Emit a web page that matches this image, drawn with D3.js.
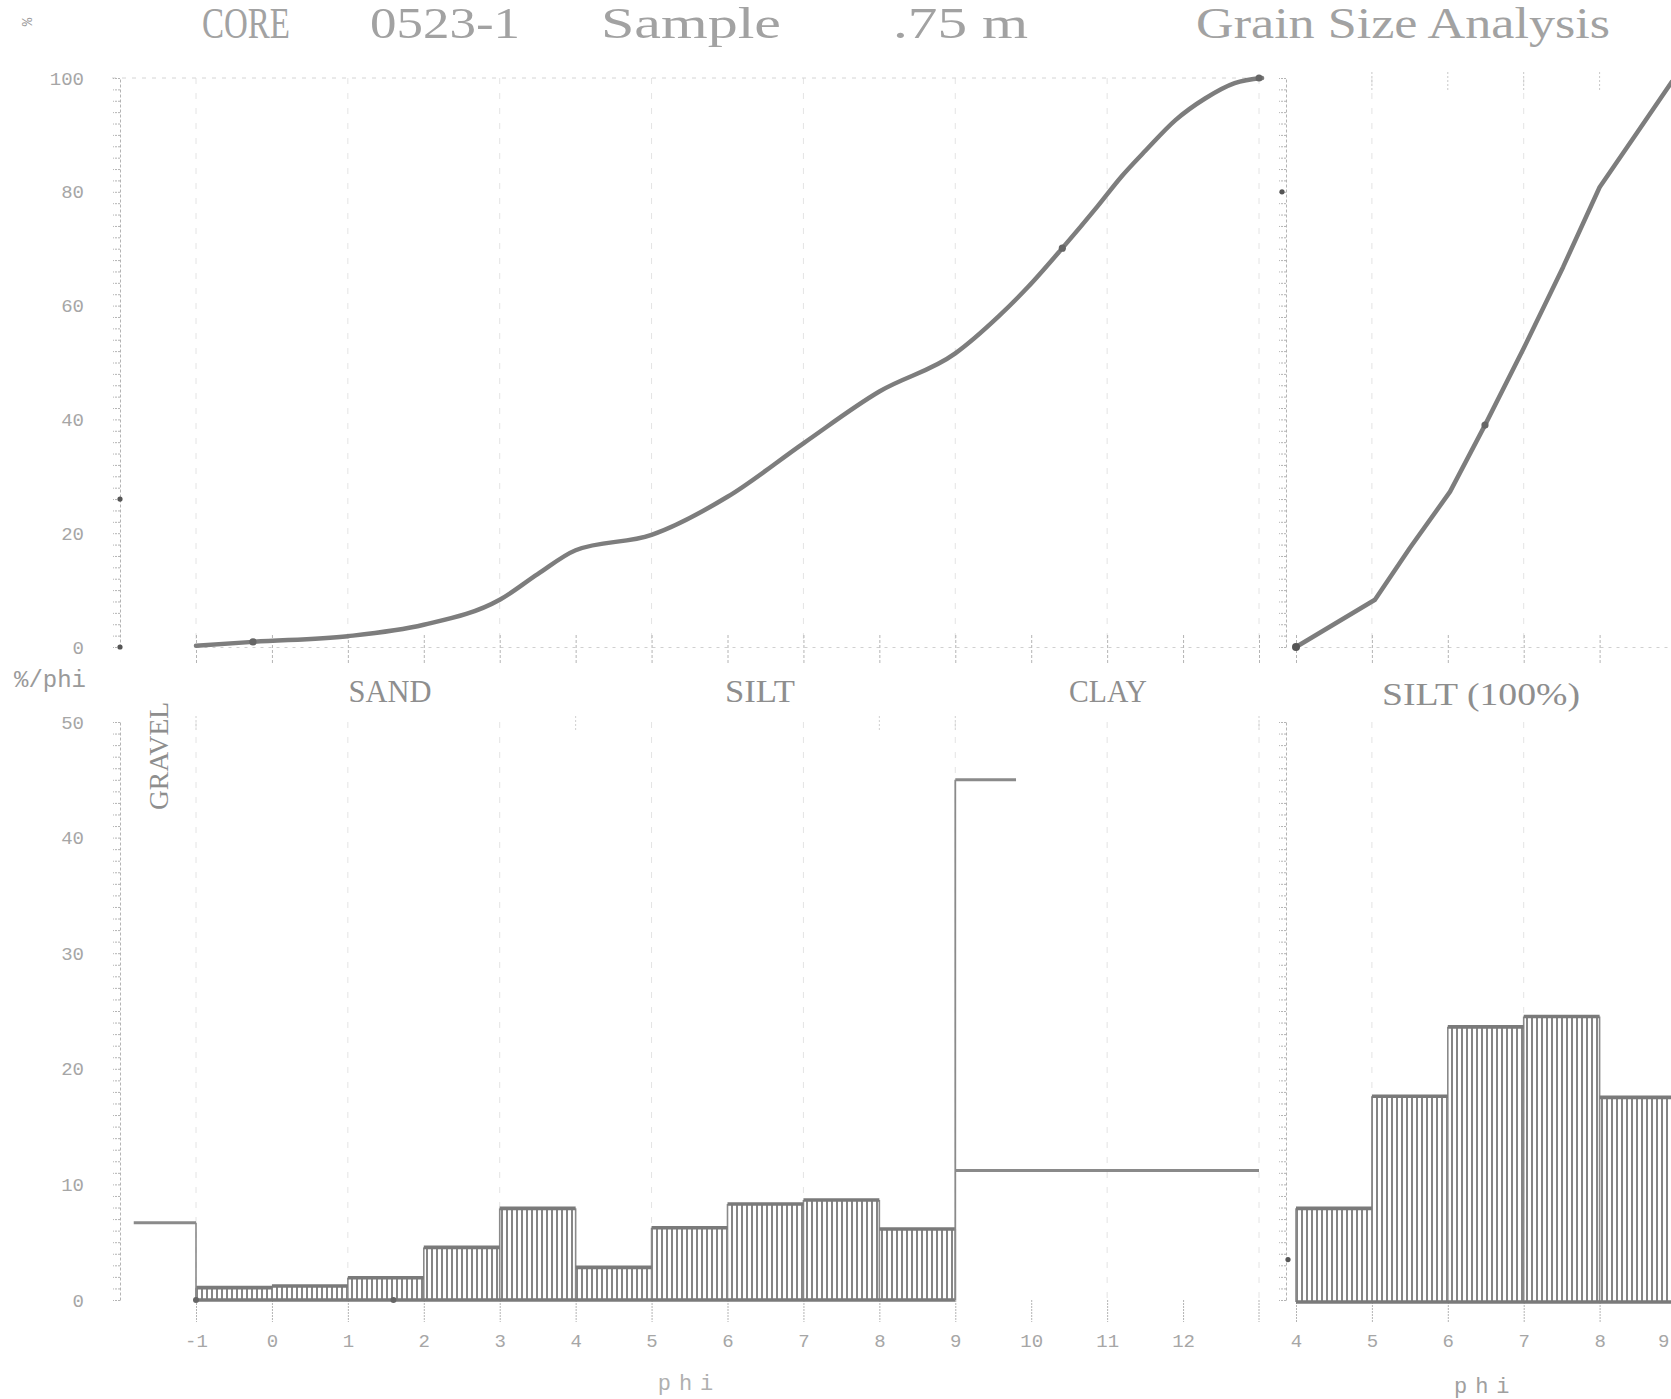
<!DOCTYPE html>
<html><head><meta charset="utf-8">
<script src="https://cdn.jsdelivr.net/npm/d3@7"></script>
<style>
body{margin:0;background:#fff;overflow:hidden}
svg{display:block}
</style>
</head><body>
<svg id="chart" width="1671" height="1399"></svg>
<script>
// ---------------- data ----------------
const titleParts = ["CORE", "0523-1", "Sample", ".75 m", "Grain Size Analysis"];
const sizeClassesLeft = ["SAND", "SILT", "CLAY"];
const sizeClassRight = "SILT (100%)";
const gravelLabel = "GRAVEL";

// cumulative curve, whole sample (phi, cumulative %)
const cumPhiLeft = [-1, -0.25, 1, 2, 3, 3.5, 4, 5, 6, 7, 8, 9, 9.57, 9.96, 10.41, 10.87, 11.19, 11.51, 11.9, 12.29, 12.68, 13.04];
const cumPctLeft = [0.2, 0.9, 1.9, 3.9, 8.3, 12.8, 17, 19.7, 26.4, 35.8, 44.9, 51.6, 58.1, 63.3, 70.1, 77.4, 82.7, 87.3, 92.6, 96.4, 99.1, 100];
const cumDotsLeft = [-0.25, 10.41];

// cumulative curve, silt fraction only
const cumPhiRight = [4, 5.04, 5.5, 6.03, 6.49, 7.0, 7.52, 8.0, 8.5, 8.95, 9.1];
const cumPctRight = [0, 8.3, 17.4, 27.3, 39, 52.5, 66.8, 80.8, 90.5, 99.3, 100];
const cumDotsRight = [6.49];

// histogram (%/phi), whole sample, phi bins -1..9
const binStartLeft = [-1, 0, 1, 2, 3, 4, 5, 6, 7, 8];
const binValueLeft = [1.07, 1.21, 1.93, 4.55, 7.93, 2.82, 6.25, 8.3, 8.65, 6.14];
const gravelBin = {from: -1.82, to: -1, value: 6.69};
const clayBins = [{from: 9, to: 9.8, value: 45}, {from: 9, to: 13, value: 11.2}];

// histogram (%/phi), silt only, phi bins 4..9
const binStartRight = [4, 5, 6, 7, 8];
const binValueRight = [8.1, 17.8, 23.8, 24.7, 17.7];

// tick labels
const cumTicks = [0, 20, 40, 60, 80, 100];
const histTicks = [0, 10, 20, 30, 40, 50];
const phiTicksLeft = [-1, 0, 1, 2, 3, 4, 5, 6, 7, 8, 9, 10, 11, 12];
const phiTicksRight = [4, 5, 6, 7, 8, 9];

// ---------------- drawing ----------------
const svg = d3.select("#chart");
const W = 1671, H = 1399;
svg.append("rect").attr("width", W).attr("height", H).attr("fill", "#fff");

const xL = d3.scaleLinear().domain([-1, 13]).range([196, 1259]);
const xR = d3.scaleLinear().domain([4, 13]).range([1296, 1296 + 9 * 75.9]);
const yTop = d3.scaleLinear().domain([0, 100]).range([647, 78]);
const yBot = d3.scaleLinear().domain([0, 50]).range([1300, 722]);

const tickCol = "#b4b4b4", labCol = "#a6a6a6";

// hatch pattern
const defs = svg.append("defs");
const pat = defs.append("pattern").attr("id", "hatch").attr("patternUnits", "userSpaceOnUse")
  .attr("width", 5).attr("height", 10);
pat.append("line").attr("x1", 2).attr("x2", 2).attr("y1", 0).attr("y2", 10)
  .attr("stroke", "#858585").attr("stroke-width", 2);

// faint vertical grid lines (every 2 phi)
const gridG = svg.append("g");
[-1, 1, 3, 5, 7, 9, 11, 13].forEach(p => {
  [[78, 647], [722, 1300]].forEach(([a, b]) => {
    gridG.append("line").attr("x1", xL(p)).attr("x2", xL(p)).attr("y1", a).attr("y2", b)
      .attr("stroke", "#e4e4e4").attr("stroke-width", 1).attr("stroke-dasharray", "6,9");
  });
});
[5, 7, 9].forEach(p => {
  [[78, 647], [722, 1300]].forEach(([a, b]) => {
    gridG.append("line").attr("x1", xR(p)).attr("x2", xR(p)).attr("y1", a).attr("y2", b)
      .attr("stroke", "#e4e4e4").attr("stroke-width", 1).attr("stroke-dasharray", "6,9");
  });
});
gridG.append("line").attr("x1", 112).attr("x2", 1259).attr("y1", 78).attr("y2", 78)
  .attr("stroke", "#d4d4d4").attr("stroke-dasharray", "4,6");
[5, 6, 7, 8].forEach(p => gridG.append("line").attr("x1", xR(p)).attr("x2", xR(p))
  .attr("y1", 72).attr("y2", 92).attr("stroke", "#c8c8c8").attr("stroke-dasharray", "2,2"));

function styleAxis(g, dash) {
  g.select(".domain").attr("stroke", tickCol).attr("stroke-dasharray", dash || "3,2");
  g.selectAll(".tick line").attr("stroke", tickCol).attr("stroke-dasharray", "2,1");
  g.selectAll("text").attr("fill", labCol).attr("font-family", "Liberation Mono, DejaVu Sans Mono, monospace")
    .attr("font-size", 19);
}

function yAxes(x, scale, minorStep, max, labels, withLabels) {
  const gm = svg.append("g").attr("transform", `translate(${x},0)`)
    .call(d3.axisLeft(scale).tickValues(d3.range(0, max + 0.001, minorStep)).tickSize(7).tickFormat("").tickSizeOuter(0));
  styleAxis(gm);
  if (withLabels) {
    const gl = svg.append("g").attr("transform", `translate(${x},0)`)
      .call(d3.axisLeft(scale).tickValues(labels).tickSize(0).tickPadding(36).tickSizeOuter(0));
    gl.select(".domain").remove();
    styleAxis(gl);
  }
}
yAxes(120, yTop, 2, 100, cumTicks, true);
yAxes(120, yBot, 1, 50, histTicks, true);
yAxes(1286, yTop, 2, 100, cumTicks, false);
yAxes(1286, yBot, 1, 50, histTicks, false);

[[120, yTop(0)], [120, yTop(26)], [1282, yTop(80)], [1288, yBot(3.5)]].forEach(([cx, cy]) =>
  svg.append("circle").attr("cx", cx).attr("cy", cy).attr("r", 2.6).attr("fill", "#555"));

// top x axis ticks (y = 0 line)
const topAx = svg.append("g").attr("transform", `translate(0,${yTop(0)})`)
  .call(d3.axisBottom(xL).tickValues(d3.range(-1, 14)).tickSize(18).tickFormat("").tickSizeOuter(0));
topAx.select(".domain").attr("stroke", "#d0d0d0").attr("stroke-dasharray", "3,5");
topAx.selectAll(".tick line").attr("stroke", tickCol).attr("stroke-dasharray", "3,2").attr("y1", -12);
const topAxR = svg.append("g").attr("transform", `translate(0,${yTop(0)})`)
  .call(d3.axisBottom(xR).tickValues(d3.range(4, 10)).tickSize(18).tickFormat("").tickSizeOuter(0));
topAxR.select(".domain").attr("stroke", "#d0d0d0").attr("stroke-dasharray", "3,5");
topAxR.selectAll(".tick line").attr("stroke", tickCol).attr("stroke-dasharray", "3,2").attr("y1", -12);

[-1, 4, 8, 9, 13].forEach(p => svg.append("line").attr("x1", xL(p)).attr("x2", xL(p))
  .attr("y1", yBot(50) - 6).attr("y2", yBot(50) + 10).attr("stroke", "#d0d0d0").attr("stroke-dasharray", "2,2"));

// bottom x axes
const botAx = svg.append("g").attr("transform", `translate(0,${yBot(0)})`)
  .call(d3.axisBottom(xL).tickValues(phiTicksLeft).tickSize(22).tickPadding(12).tickSizeOuter(0)
    .tickFormat(d => d));
botAx.select(".domain").remove();
styleAxis(botAx);
botAx.append("line").attr("x1", xL(13)).attr("x2", xL(13)).attr("y1", 0).attr("y2", 22)
  .attr("stroke", tickCol).attr("stroke-dasharray", "2,1");
const botAxR = svg.append("g").attr("transform", `translate(0,${yBot(0) + 2})`)
  .call(d3.axisBottom(xR).tickValues(phiTicksRight).tickSize(20).tickPadding(12).tickSizeOuter(0));
botAxR.select(".domain").remove();
styleAxis(botAxR);
// keep the last (edge) label inside the frame
botAxR.selectAll(".tick text").filter(d => xR(d) + 8 > W).attr("text-anchor", "end").attr("x", W - 2 - xR(9));

// ---------- histograms ----------
const hist = svg.append("g");
function bars(starts, values, xs, yb) {
  const data = starts.map((s, i) => ({from: s, to: s + 1, value: values[i]}));
  hist.selectAll(null).data(data).enter().append("rect")
    .attr("x", d => xs(d.from)).attr("width", d => xs(d.to) - xs(d.from))
    .attr("y", d => yb(d.value)).attr("height", d => yb(0) - yb(d.value))
    .attr("fill", "url(#hatch)");
  data.forEach((d, i) => {
    const prev = i > 0 ? data[i - 1].value : 0;
    hist.append("line").attr("x1", xs(d.from)).attr("x2", xs(d.from))
      .attr("y1", yb(0)).attr("y2", yb(Math.max(prev, d.value)))
      .attr("stroke", "#8a8a8a").attr("stroke-width", 1.6);
  });
  const last = data[data.length - 1];
  hist.append("line").attr("x1", xs(last.to)).attr("x2", xs(last.to))
    .attr("y1", yb(0)).attr("y2", yb(last.value)).attr("stroke", "#8a8a8a").attr("stroke-width", 1.6);
  hist.selectAll(null).data(data).enter().append("line")
    .attr("x1", d => xs(d.from)).attr("x2", d => xs(d.to))
    .attr("y1", d => yb(d.value)).attr("y2", d => yb(d.value))
    .attr("stroke", "#7a7a7a").attr("stroke-width", 3.6);
  hist.append("line").attr("x1", xs(data[0].from)).attr("x2", xs(last.to))
    .attr("y1", yb(0)).attr("y2", yb(0)).attr("stroke", "#7a7a7a").attr("stroke-width", 3.6);
}
bars(binStartLeft, binValueLeft, xL, yBot);
bars(binStartRight, binValueRight, xR, d3.scaleLinear().domain([0, 50]).range([1302, 724]));

// gravel
hist.append("line").attr("x1", xL(gravelBin.from)).attr("x2", xL(gravelBin.to))
  .attr("y1", yBot(gravelBin.value)).attr("y2", yBot(gravelBin.value)).attr("stroke", "#8a8a8a").attr("stroke-width", 3);
hist.append("line").attr("x1", xL(gravelBin.to)).attr("x2", xL(gravelBin.to))
  .attr("y1", yBot(gravelBin.value)).attr("y2", yBot(0)).attr("stroke", "#8a8a8a").attr("stroke-width", 1.6);
// clay
hist.append("line").attr("x1", xL(9)).attr("x2", xL(9))
  .attr("y1", yBot(0)).attr("y2", yBot(clayBins[0].value)).attr("stroke", "#8a8a8a").attr("stroke-width", 1.8);
clayBins.forEach(b => hist.append("line").attr("x1", xL(b.from)).attr("x2", xL(b.to))
  .attr("y1", yBot(b.value)).attr("y2", yBot(b.value)).attr("stroke", "#8a8a8a").attr("stroke-width", 3));
[-1, 1.6].forEach(p => hist.append("circle").attr("cx", xL(p)).attr("cy", yBot(0)).attr("r", 3).attr("fill", "#666"));

// ---------- cumulative curves ----------
const lineL = d3.line().x(d => xL(d[0])).y(d => yTop(d[1])).curve(d3.curveMonotoneX);
const lineR = d3.line().x(d => xR(d[0])).y(d => yTop(d[1])).curve(d3.curveLinear);
svg.append("path").datum(cumPhiLeft.map((p, i) => [p, cumPctLeft[i]]))
  .attr("d", lineL).attr("fill", "none").attr("stroke", "#7d7d7d").attr("stroke-width", 4.5)
  .attr("stroke-linecap", "round").attr("stroke-linejoin", "round");
svg.append("path").datum(cumPhiRight.map((p, i) => [p, cumPctRight[i]]))
  .attr("d", lineR).attr("fill", "none").attr("stroke", "#7d7d7d").attr("stroke-width", 4.5)
  .attr("stroke-linecap", "round").attr("stroke-linejoin", "round");
const valL = p => cumPctLeft[cumPhiLeft.indexOf(p)];
const valR = p => cumPctRight[cumPhiRight.indexOf(p)];
cumDotsLeft.forEach(p => svg.append("circle").attr("cx", xL(p)).attr("cy", yTop(valL(p))).attr("r", 3.6).attr("fill", "#666"));
cumDotsRight.forEach(p => svg.append("circle").attr("cx", xR(p)).attr("cy", yTop(valR(p))).attr("r", 3.6).attr("fill", "#666"));
svg.append("circle").attr("cx", xR(4)).attr("cy", yTop(0)).attr("r", 4).attr("fill", "#555");
svg.append("circle").attr("cx", xL(13)).attr("cy", yTop(100)).attr("r", 3.5).attr("fill", "#666");

// ---------- texts ----------
const serif = "Liberation Serif, DejaVu Serif, serif";
const titleX = [[202, 88], [370, 150], [601, 180], [893, 135], [1196, 414]];
titleParts.forEach((t, i) => svg.append("text").attr("x", titleX[i][0]).attr("y", 38)
  .attr("textLength", titleX[i][1]).attr("lengthAdjust", "spacingAndGlyphs")
  .attr("font-family", serif).attr("font-size", 44).attr("fill", "#a2a2a2").text(t));

const classPos = [[390, 83], [760, 70], [1108, 78]];
sizeClassesLeft.forEach((t, i) => svg.append("text").attr("x", classPos[i][0]).attr("y", 702)
  .attr("text-anchor", "middle").attr("textLength", classPos[i][1]).attr("lengthAdjust", "spacingAndGlyphs")
  .attr("font-family", serif).attr("font-size", 31).attr("fill", "#8e8e8e").text(t));
svg.append("text").attr("x", 1382).attr("y", 705).attr("textLength", 198).attr("lengthAdjust", "spacingAndGlyphs")
  .attr("font-family", serif).attr("font-size", 32).attr("fill", "#8e8e8e").text(sizeClassRight);
svg.append("text").attr("transform", "translate(168,810) rotate(-90)")
  .attr("textLength", 108).attr("lengthAdjust", "spacingAndGlyphs")
  .attr("font-family", serif).attr("font-size", 27).attr("fill", "#8e8e8e").text(gravelLabel);

const mono = "Liberation Mono, DejaVu Sans Mono, monospace";
svg.append("text").attr("x", 14).attr("y", 687).attr("font-family", mono).attr("font-size", 24)
  .attr("fill", "#9a9a9a").text("%/phi");
svg.append("text").attr("transform", "translate(32,22) rotate(-90)").attr("text-anchor", "middle")
  .attr("font-family", mono).attr("font-size", 14).attr("fill", "#9a9a9a").text("%");
svg.append("text").attr("x", xL(5.5)).attr("y", 1390).attr("text-anchor", "middle").attr("font-family", mono)
  .attr("font-size", 22).attr("fill", "#b0b0b0").attr("letter-spacing", 8).text("phi");
svg.append("text").attr("x", xR(6.5)).attr("y", 1393).attr("text-anchor", "middle").attr("font-family", mono)
  .attr("font-size", 22).attr("fill", "#a0a0a0").attr("letter-spacing", 8).text("phi");
</script>
</body></html>
